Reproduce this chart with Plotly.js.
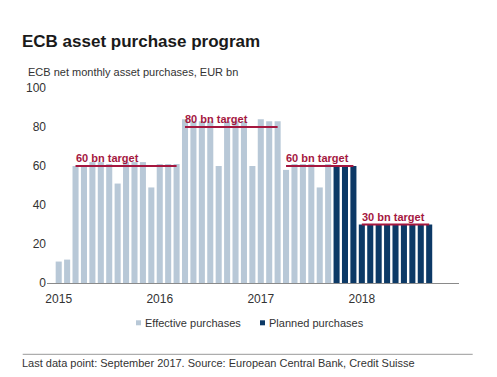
<!DOCTYPE html>
<html>
<head>
<meta charset="utf-8">
<script src="https://cdn.plot.ly/plotly-3.0.1.min.js"></script>
<style>html,body{margin:0;padding:0;background:#fff;}#chart{width:497px;height:377px;}</style>
</head>
<body>
<div id="chart"></div>
<script>
// Categories (months)
var effectiveMonths = ["2015-01","2015-02","2015-03","2015-04","2015-05","2015-06","2015-07","2015-08","2015-09","2015-10","2015-11","2015-12",
  "2016-01","2016-02","2016-03","2016-04","2016-05","2016-06","2016-07","2016-08","2016-09","2016-10","2016-11","2016-12",
  "2017-01","2017-02","2017-03","2017-04","2017-05","2017-06","2017-07","2017-08","2017-09"];
var plannedMonths = ["2017-10","2017-11","2017-12","2018-01","2018-02","2018-03","2018-04","2018-05","2018-06","2018-07","2018-08","2018-09"];
// Series values (EUR bn)
var effectiveValues = [11, 12, 60, 60, 62, 62, 61, 51, 62, 62, 62, 49,
  61, 61, 61, 84, 83, 83, 83, 60, 83, 83, 83, 60,
  84, 83, 83, 58, 61, 61, 61, 49, 61];
var plannedValues = [60, 60, 60, 30, 30, 30, 30, 30, 30, 30, 30, 30];
// Targets
var targetStarts = ["2015-03","2016-04","2017-04","2018-01"];
var targetEnds   = ["2016-03","2017-03","2017-12","2018-09"];
var targetValues = [60, 80, 60, 30];
var targetLabels = ["60 bn target","80 bn target","60 bn target","30 bn target"];
// Axis tick labels
var tickMonths = ["2015-01","2016-01","2017-01","2018-01"];
var tickLabels = ["2015","2016","2017","2018"];
var yTicks = [0, 20, 40, 60, 80, 100];

var allMonths = effectiveMonths.concat(plannedMonths);
var FONT = "Liberation Sans, Arial, sans-serif";
var LIGHT = "#b8c8d7", DARK = "#0c3966", RED = "#a5173f";

var traces = [
  {type:"bar", x:effectiveMonths, y:effectiveValues, marker:{color:LIGHT}, width:0.72, showlegend:false, hoverinfo:"skip"},
  {type:"bar", x:plannedMonths, y:plannedValues, marker:{color:DARK}, width:0.72, showlegend:false, hoverinfo:"skip"}
];
var annotations = [];
for (var i = 0; i < targetValues.length; i++) {
  traces.push({type:"scatter", mode:"lines", x:[targetStarts[i], targetEnds[i]], y:[targetValues[i], targetValues[i]],
    line:{color:RED, width:2}, showlegend:false, hoverinfo:"skip"});
  annotations.push({xref:"x", yref:"y", x:targetStarts[i], y:targetValues[i], text:targetLabels[i],
    showarrow:false, xanchor:"left", yanchor:"bottom", xshift:-2, yshift:0,
    font:{family:FONT, size:11, color:RED, weight:"bold"}});
}

function px2x(p){ return (p - 47) / 412; }
function px2y(p){ return (282.7 - p) / 195; }

annotations.push({xref:"paper", yref:"paper", x:px2x(26), y:px2y(71.5), xanchor:"left", yanchor:"middle",
  text:"ECB net monthly asset purchases, EUR bn", showarrow:false, font:{family:FONT, size:11, color:"#333"}});
annotations.push({xref:"paper", yref:"paper", x:px2x(143), y:px2y(322.7), xanchor:"left", yanchor:"middle",
  text:"Effective purchases", showarrow:false, font:{family:FONT, size:11, color:"#333"}});
annotations.push({xref:"paper", yref:"paper", x:px2x(267), y:px2y(322.7), xanchor:"left", yanchor:"middle",
  text:"Planned purchases", showarrow:false, font:{family:FONT, size:11, color:"#333"}});
annotations.push({xref:"paper", yref:"paper", x:px2x(20), y:px2y(363), xanchor:"left", yanchor:"middle",
  text:"Last data point: September 2017. Source: European Central Bank, Credit Suisse", showarrow:false, font:{family:FONT, size:11, color:"#333"}});

var shapes = [
  {type:"rect", xref:"paper", yref:"paper", x0:px2x(136), x1:px2x(141), y0:px2y(325), y1:px2y(320), fillcolor:LIGHT, line:{width:0}},
  {type:"rect", xref:"paper", yref:"paper", x0:px2x(260), x1:px2x(265), y0:px2y(325), y1:px2y(320), fillcolor:DARK, line:{width:0}},
  {type:"line", xref:"paper", yref:"paper", x0:px2x(22.7), x1:px2x(472.7), y0:px2y(354), y1:px2y(354), line:{color:"#999", width:1}}
];

var layout = {
  width:497, height:377,
  margin:{l:47, r:38, t:87.7, b:94.3},
  paper_bgcolor:"#fff", plot_bgcolor:"#fff",
  barmode:"overlay",
  font:{family:FONT, size:12, color:"#333"},
  title:{text:"<b>ECB asset purchase program</b>", x:22/497, xanchor:"left", xref:"container",
    y:1-41/377, yanchor:"middle", yref:"container", font:{family:FONT, size:17, color:"#1a1a1a"}},
  xaxis:{type:"category", categoryorder:"array", categoryarray:allMonths, range:[-1.39, 47.54],
    tickmode:"array", tickvals:tickMonths, ticktext:tickLabels, showgrid:false, zeroline:false,
    showline:true, linecolor:"#8a8a8a", linewidth:1, ticks:"", ticklabelstandoff:5, tickfont:{size:12, color:"#333"}},
  yaxis:{range:[0,100], tickmode:"array", tickvals:yTicks, showgrid:false, zeroline:false, showline:false,
    ticks:"", tickfont:{size:12, color:"#333"}},
  annotations:annotations,
  shapes:shapes,
  showlegend:false
};
Plotly.newPlot("chart", traces, layout, {displayModeBar:false, staticPlot:true});
</script>
</body>
</html>
